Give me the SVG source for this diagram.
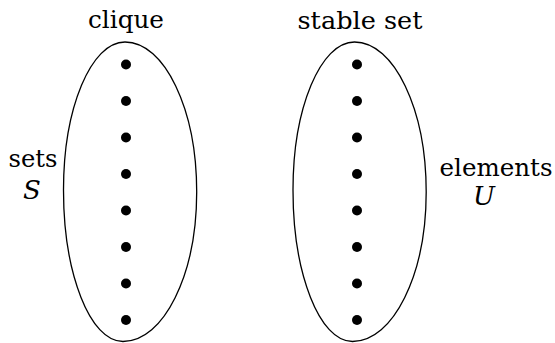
<svg xmlns="http://www.w3.org/2000/svg" xmlns:xlink="http://www.w3.org/1999/xlink" width="555" height="343" viewBox="0 0 555 343">
<style>
.lbl{font-family:"DejaVu Serif","Liberation Serif",serif;font-size:25px;fill:#000}
.it{font-style:italic;font-size:26px}
.oval{fill:none;stroke:#000;stroke-width:1.3}
.dot{fill:#000}
</style>
<defs>
<path id="egg" d="M125,42 C164.6,42 196.7,109.2 196.7,192 C196.7,274.6 163.7,341.5 123,341.5 C90.1,341.5 63.5,273.7 63.5,190 C63.5,108.3 91,42 125,42 Z"/>
<g id="dots">
<circle cx="126" cy="64.5" r="5"/>
<circle cx="126" cy="101" r="5"/>
<circle cx="126" cy="137.5" r="5"/>
<circle cx="126" cy="174" r="5"/>
<circle cx="126" cy="210.5" r="5"/>
<circle cx="126" cy="247" r="5"/>
<circle cx="126" cy="283.5" r="5"/>
<circle cx="126" cy="320" r="5"/>
</g>
</defs>
<g id="connectors"></g>
<g id="clique">
<use xlink:href="#egg" href="#egg" class="oval"/>
<use xlink:href="#dots" href="#dots" class="dot"/>
<text class="lbl" x="126" y="28" text-anchor="middle" textLength="76" lengthAdjust="spacingAndGlyphs">clique</text>
</g>
<g id="stable-set">
<use xlink:href="#egg" href="#egg" class="oval" transform="translate(229.5,0)"/>
<use xlink:href="#dots" href="#dots" class="dot" transform="translate(231,0)"/>
<text class="lbl" x="360" y="29" text-anchor="middle" textLength="125" lengthAdjust="spacingAndGlyphs">stable set</text>
</g>
<g id="sets-label">
<text class="lbl" x="33" y="167" text-anchor="middle" textLength="49" lengthAdjust="spacingAndGlyphs">sets</text>
<text class="lbl it" x="32" y="199" text-anchor="middle">S</text>
</g>
<g id="elements-label">
<text class="lbl" x="496" y="176" text-anchor="middle" textLength="113" lengthAdjust="spacingAndGlyphs">elements</text>
<text class="lbl it" x="484" y="205" text-anchor="middle">U</text>
</g>
</svg>
